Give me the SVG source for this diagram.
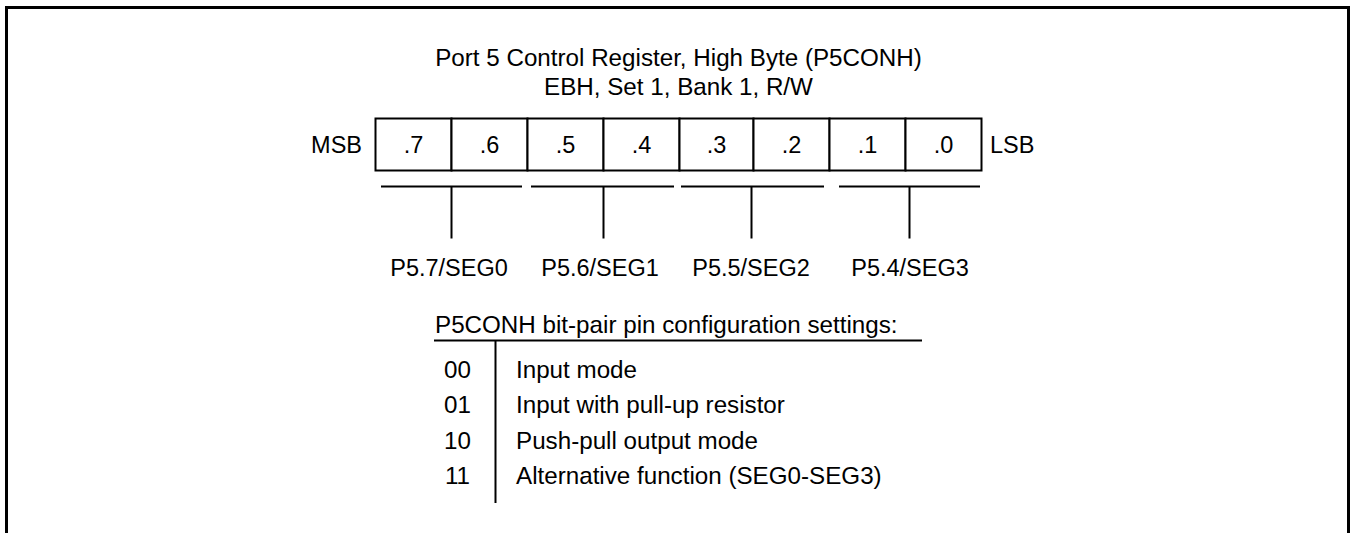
<svg xmlns="http://www.w3.org/2000/svg" width="1355" height="533" viewBox="0 0 1355 533">
<style>
text{font-family:"Liberation Sans",Arial,sans-serif;font-size:23.5px;fill:#000}
.t{font-size:24.2px}
.c{text-anchor:middle}
.e{text-anchor:end}
.ln{stroke:#000;stroke-width:2;fill:none}
.cell{stroke:#000;stroke-width:2;fill:#fff}
</style>
<rect width="1355" height="533" fill="#fff"/>
<path d="M6.5,533 V7.5 H1348.5 V533" fill="none" stroke="#000" stroke-width="3"/>
<g id="title">
<text class="c t" x="678.5" y="66">Port 5 Control Register, High Byte (P5CONH)</text>
<text class="c t" x="678.5" y="95">EBH, Set 1, Bank 1, R/W</text>
</g>
<g id="register">
<text class="e" x="362" y="153">MSB</text>
<rect class="cell" x="375.5" y="118.5" width="76" height="52"/>
<rect class="cell" x="451.5" y="118.5" width="76" height="52"/>
<rect class="cell" x="527.5" y="118.5" width="76" height="52"/>
<rect class="cell" x="603.5" y="118.5" width="76" height="52"/>
<rect class="cell" x="679.5" y="118.5" width="74" height="52"/>
<rect class="cell" x="753.5" y="118.5" width="76" height="52"/>
<rect class="cell" x="829.5" y="118.5" width="76" height="52"/>
<rect class="cell" x="905.5" y="118.5" width="76" height="52"/>
<text class="c" x="413.5" y="153">.7</text>
<text class="c" x="489.5" y="153">.6</text>
<text class="c" x="565.5" y="153">.5</text>
<text class="c" x="641.5" y="153">.4</text>
<text class="c" x="716.5" y="153">.3</text>
<text class="c" x="791.5" y="153">.2</text>
<text class="c" x="867.5" y="153">.1</text>
<text class="c" x="943.5" y="153">.0</text>
<text x="990" y="153">LSB</text>
</g>
<g id="connectors">
<path class="ln" d="M381,186.5 H522 M451.5,186.5 V238.5"/>
<path class="ln" d="M531,186.5 H674 M603.5,186.5 V238.5"/>
<path class="ln" d="M681,186.5 H824 M751.5,186.5 V238.5"/>
<path class="ln" d="M839,186.5 H980 M909.5,186.5 V238.5"/>
</g>
<g id="pins">
<text class="c" x="449" y="276">P5.7/SEG0</text>
<text class="c" x="600" y="276">P5.6/SEG1</text>
<text class="c" x="751" y="276">P5.5/SEG2</text>
<text class="c" x="910" y="276">P5.4/SEG3</text>
</g>
<g id="settings">
<text class="t" x="435" y="333">P5CONH bit-pair pin configuration settings:</text>
<path class="ln" d="M434,340.5 H922 M495.5,340.5 V503"/>
<text class="c t" x="457.5" y="377.5">00</text>
<text class="c t" x="457.5" y="413">01</text>
<text class="c t" x="457.5" y="448.5">10</text>
<text class="c t" x="457.5" y="484">11</text>
<text class="t" x="516" y="377.5">Input mode</text>
<text class="t" x="516" y="413">Input with pull-up resistor</text>
<text class="t" x="516" y="448.5">Push-pull output mode</text>
<text class="t" x="516" y="484">Alternative function (SEG0-SEG3)</text>
</g>
</svg>
